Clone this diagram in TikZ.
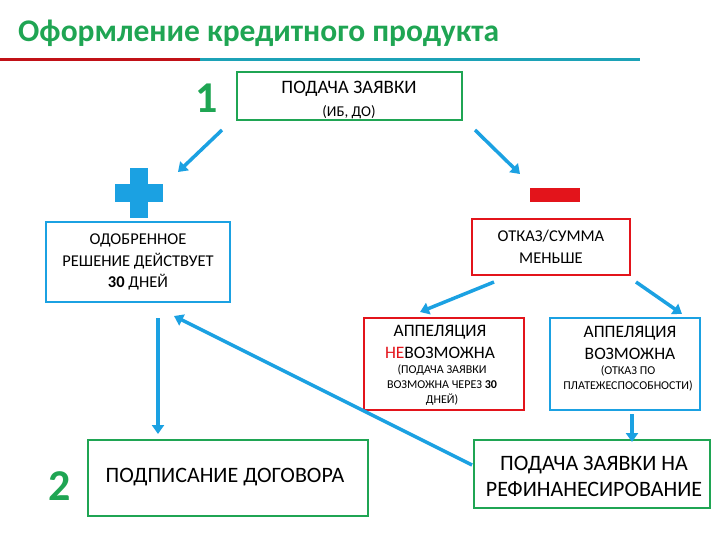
\documentclass[tikz,border=0pt]{standalone}
\usepackage{fontspec}
\setmainfont{Carlito}
\usetikzlibrary{arrows.meta}
\definecolor{gr}{HTML}{1FA553}
\definecolor{bl}{HTML}{1BA1E2}
\definecolor{rd}{HTML}{E3141B}
\begin{document}
\begin{tikzpicture}[x=1pt,y=-1pt,
 box/.style={draw=#1,line width=1.5pt,minimum width=0pt,inner sep=0pt},
 arr/.style={draw=bl,line width=3.5pt,-{Triangle[length=9pt,width=12pt]}},
 txt/.style={align=center,inner sep=0pt,font=\fontsize{18}{22}\selectfont}]
\useasboundingbox (0,0) rectangle (720,540);
\node[anchor=west,text=gr,inner sep=0pt,font=\fontsize{31.5}{34}\selectfont\bfseries] (title) at (18,33) {Оформление кредитного продукта};
\fill[rd!85!black] (0,58) rectangle (200,61);
\fill[bl!70!gr] (200,58) rectangle (640,61);
% boxes
\draw[box=gr] (237,72) rectangle (462,120);
\node[txt,font=\fontsize{19}{22}\selectfont] (t1) at (349,89) {ПОДАЧА ЗАЯВКИ};
\node[txt,font=\fontsize{15}{18}\selectfont] (t1b) at (349,112) {(ИБ, ДО)};
\node[text=gr,font=\fontsize{44}{44}\selectfont\bfseries,inner sep=0pt] (one) at (207,98) {1};
\draw[box=bl] (46,222) rectangle (230,302);
\node[txt,font=\fontsize{16.5}{21.5}\selectfont] (t2) at (138,262) {ОДОБРЕННОЕ\\РЕШЕНИЕ ДЕЙСТВУЕТ\\\textbf{30} ДНЕЙ};
\fill[bl] (130,168) rectangle (148,218);
\fill[bl] (115,184) rectangle (163,202);
\fill[rd] (530,188) rectangle (580,202);
\draw[box=rd] (472,219) rectangle (630,275);
\node[txt,font=\fontsize{16.5}{21.5}\selectfont] (t3) at (551,247) {ОТКАЗ/СУММА\\МЕНЬШЕ};
\draw[box=rd] (364,318) rectangle (524,410);
\node[txt,font=\fontsize{17.5}{22}\selectfont] (t4) at (440,342) {АППЕЛЯЦИЯ\\\textcolor{rd}{НЕ}ВОЗМОЖНА};
\node[txt,font=\fontsize{12}{15}\selectfont] (t4b) at (442,385) {(ПОДАЧА ЗАЯВКИ\\ВОЗМОЖНА ЧЕРЕЗ \textbf{30}\\ДНЕЙ)};
\draw[box=bl] (550,318) rectangle (700,410);
\node[txt,font=\fontsize{17.5}{22}\selectfont] (t5) at (630,343) {АППЕЛЯЦИЯ\\ВОЗМОЖНА};
\node[txt,font=\fontsize{12}{15}\selectfont] (t5b) at (628,378) {(ОТКАЗ ПО\\ПЛАТЕЖЕСПОСОБНОСТИ)};
\draw[box=gr] (88,440) rectangle (368,516);
\node[txt,font=\fontsize{22}{26}\selectfont] (t6) at (225,477) {ПОДПИСАНИЕ ДОГОВОРА};
\node[text=gr,font=\fontsize{44}{44}\selectfont\bfseries,inner sep=0pt] (two) at (60,486) {2};
\draw[box=gr] (474,440) rectangle (710,508);
\node[txt,font=\fontsize{22}{26}\selectfont] (t7) at (594,476) {ПОДАЧА ЗАЯВКИ НА\\РЕФИНАНЕСИРОВАНИЕ};
% arrows
\coordinate (a1) at (222,130); \coordinate (a1e) at (178,172);
\coordinate (a2) at (475,130); \coordinate (a2e) at (520,174);
\coordinate (a3) at (494,282); \coordinate (a3e) at (420,312);
\coordinate (a4) at (636,282); \coordinate (a4e) at (682,314);
\coordinate (a5) at (158,318); \coordinate (a5e) at (158,434);
\coordinate (a6) at (472,465); \coordinate (a6e) at (174,316);
\coordinate (a7) at (632,414); \coordinate (a7e) at (632,442);
\draw[arr] (a1) -- (a1e);
\draw[arr] (a2) -- (a2e);
\draw[arr] (a3) -- (a3e);
\draw[arr] (a4) -- (a4e);
\draw[arr] (a5) -- (a5e);
\draw[arr] (a6) -- (a6e);
\draw[arr] (a7) -- (a7e);
\end{tikzpicture}
\end{document}
